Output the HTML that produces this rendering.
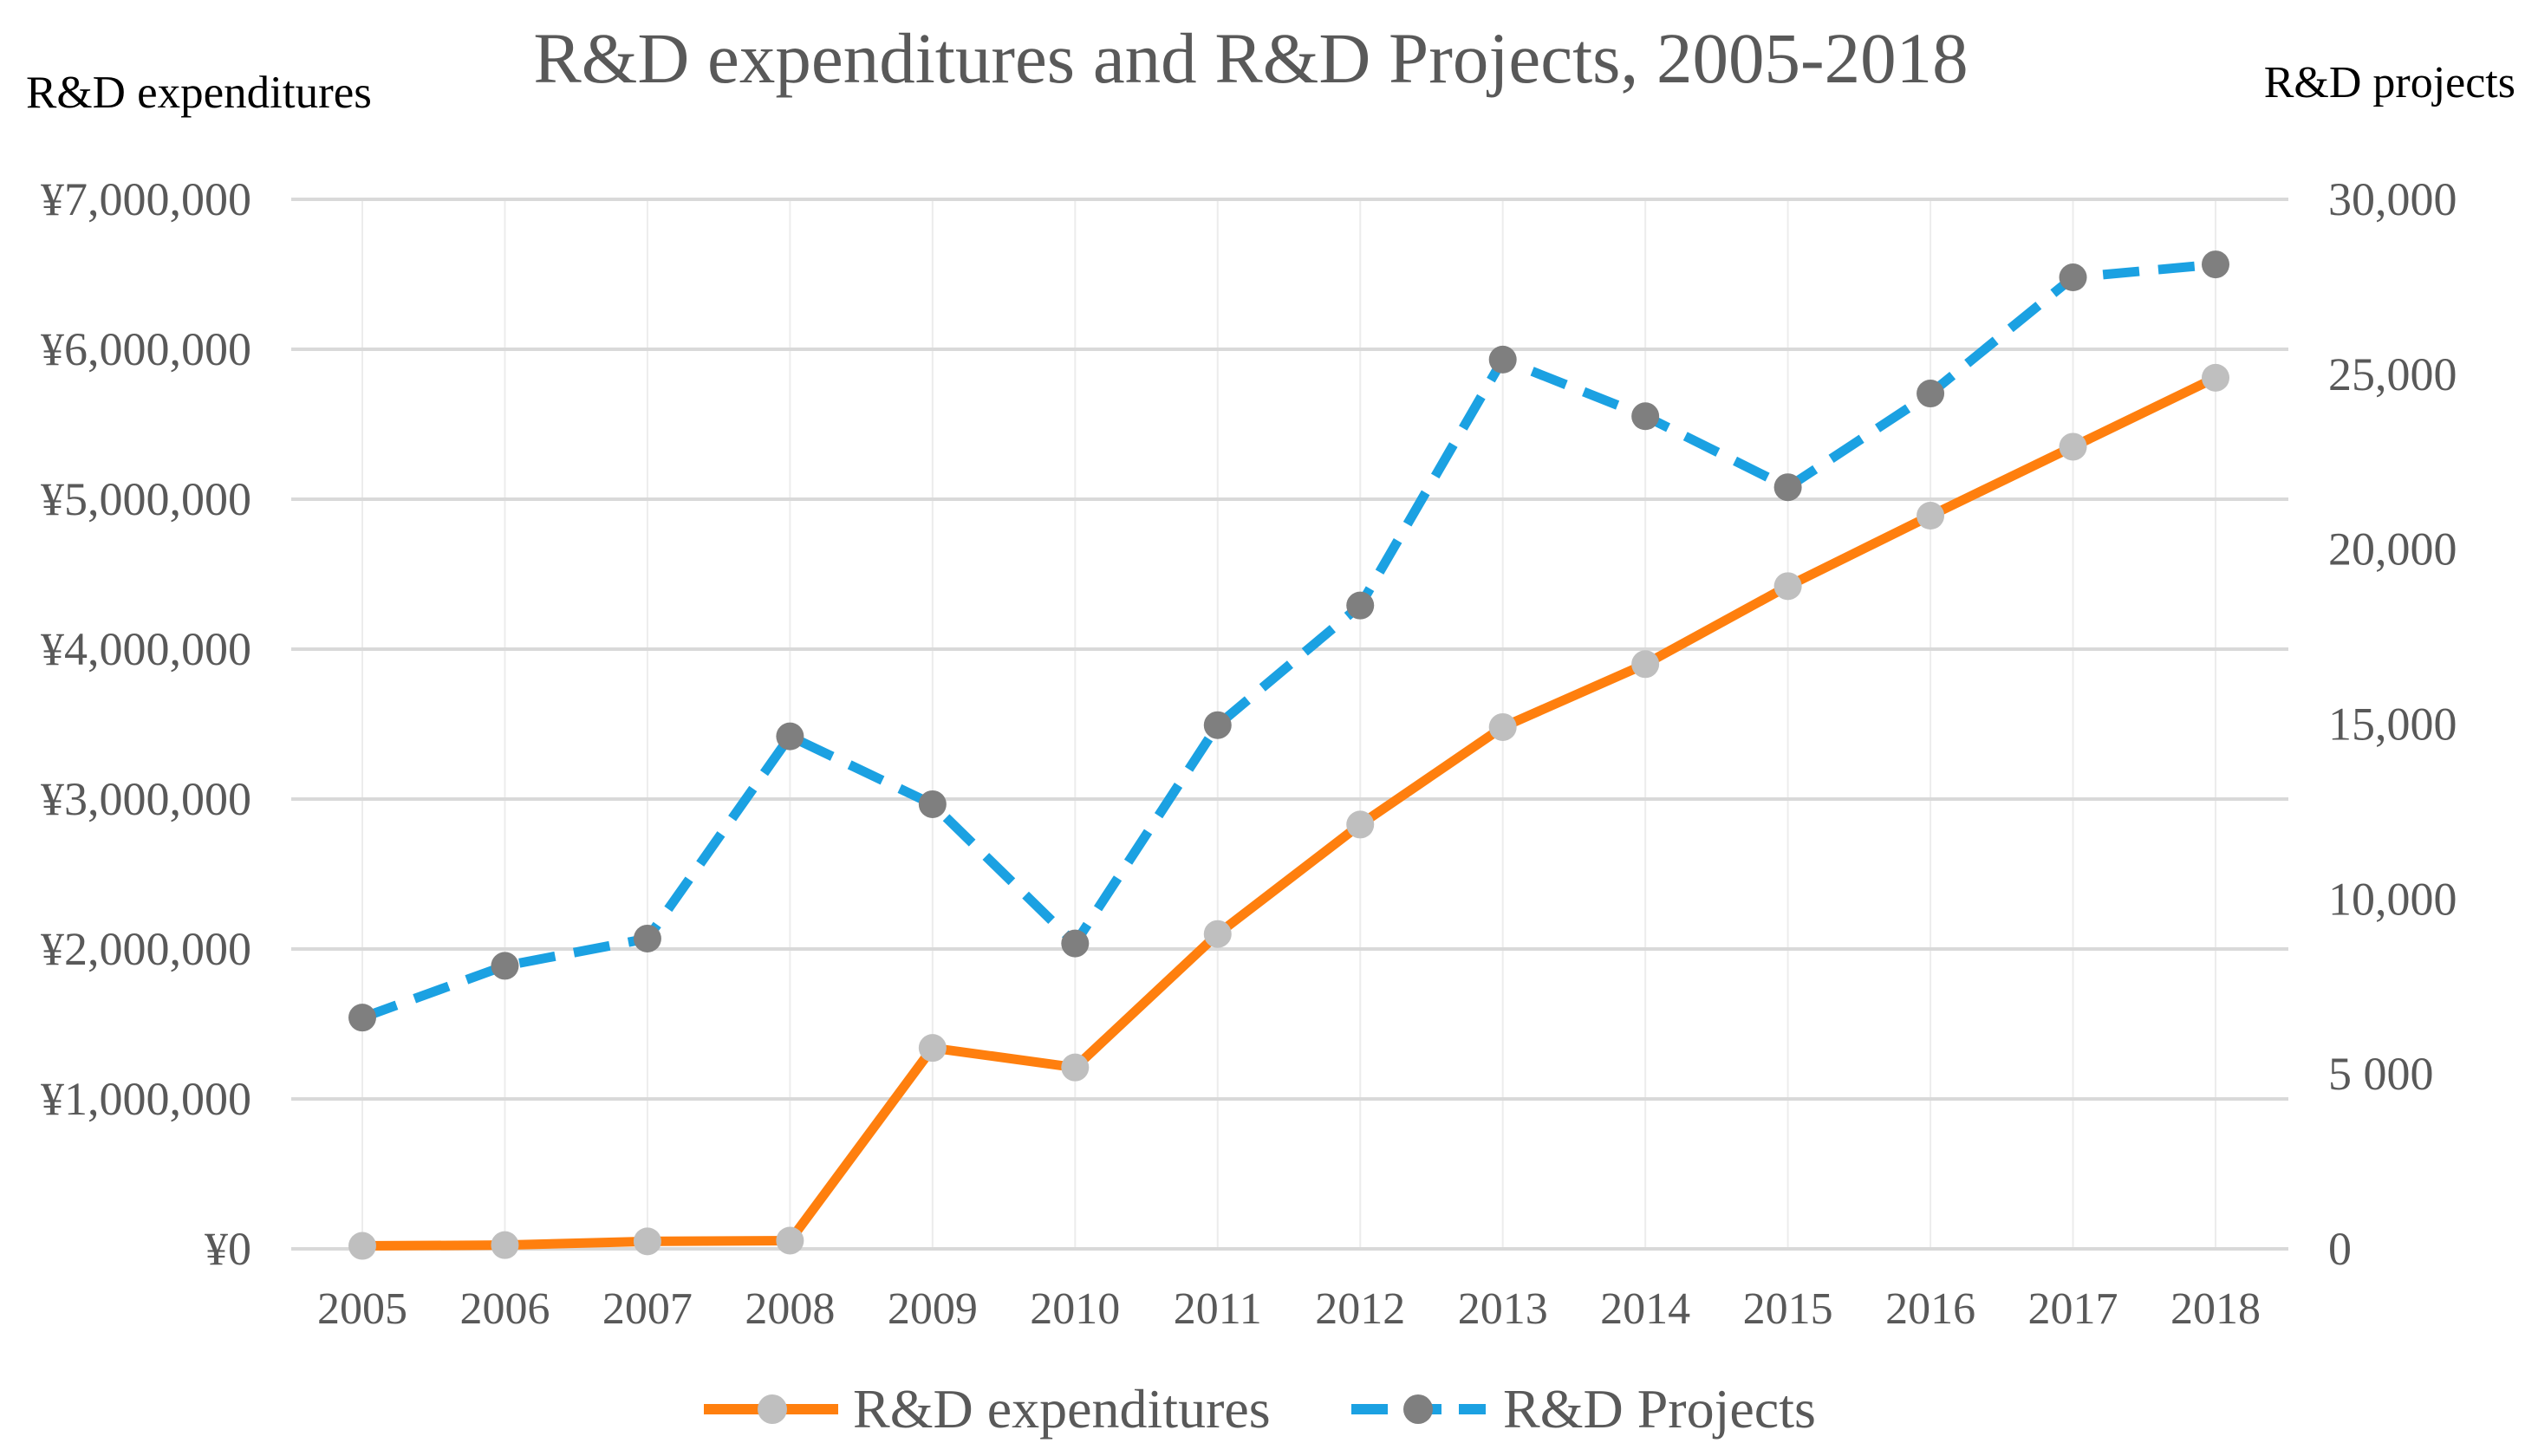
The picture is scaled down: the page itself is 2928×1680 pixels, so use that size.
<!DOCTYPE html>
<html><head><meta charset="utf-8"><style>
html,body{margin:0;padding:0;background:#fff;}
svg{display:block;font-family:"Liberation Serif",serif;}
</style></head><body>
<svg id="chart" width="2928" height="1680" viewBox="0 0 2928 1680" xmlns="http://www.w3.org/2000/svg">
<rect width="2928" height="1680" fill="#fff"/>
<text x="1443" y="95" text-anchor="middle" font-size="83" fill="#595959">R&amp;D expenditures  and R&amp;D Projects, 2005-2018</text>
<text x="30" y="124" font-size="53" fill="#000">R&amp;D expenditures</text>
<text x="2902" y="112" text-anchor="end" font-size="52" fill="#000">R&amp;D projects</text>
<g id="grid"></g>
<g id="ticks"></g>
<g id="series"></g>
<g>
<g>
<line x1="812" y1="1626" x2="967" y2="1626" stroke="#ff7f0e" stroke-width="12"/>
<circle cx="891" cy="1626" r="17" fill="#bfbfbf"/>
<text x="984" y="1647" font-size="64" fill="#595959">R&amp;D expenditures</text>
</g>
<g>
<line x1="1559" y1="1626" x2="1714" y2="1626" stroke="#1ba1e2" stroke-width="12" stroke-dasharray="42 20"/>
<circle cx="1636" cy="1626" r="17" fill="#7f7f7f"/>
<text x="1734" y="1647" font-size="64" fill="#595959">R&amp;D Projects</text>
</g>
</g>
</svg>
<script>
const years = [2005,2006,2007,2008,2009,2010,2011,2012,2013,2014,2015,2016,2017,2018];
const expenditures = [20000,25000,50000,55000,1340000,1210000,2100000,2830000,3480000,3900000,4420000,4890000,5350000,5810000];
const projects = [6610,8090,8870,14650,12710,8730,14970,18390,25420,23800,21770,24450,27770,28140];
const leftTicks = [0,1000000,2000000,3000000,4000000,5000000,6000000,7000000];
const leftTickLabels = ["¥0","¥1,000,000","¥2,000,000","¥3,000,000","¥4,000,000","¥5,000,000","¥6,000,000","¥7,000,000"];
const rightTickLabels = ["0","5 000","10,000","15,000","20,000","25,000","30,000"];
const rightTicks = [0,5000,10000,15000,20000,25000,30000];

const NS="http://www.w3.org/2000/svg";
const plotL=336, plotR=2640, y0=1441, yTop=230;
const xStart=418, xEnd=2556;
function x(i){return xStart+(xEnd-xStart)*i/(years.length-1);}
function yL(v){return y0-(y0-yTop)*v/7000000;}
function yR(v){return y0-(y0-yTop)*v/30000;}
function mk(tag,attrs,parent){const e=document.createElementNS(NS,tag);for(const k in attrs)e.setAttribute(k,attrs[k]);parent.appendChild(e);return e;}
const grid=document.getElementById('grid'), ticks=document.getElementById('ticks'), series=document.getElementById('series');

years.forEach((yr,i)=>{
  const l=mk('line',{x1:x(i),x2:x(i),y1:yTop,y2:y0,stroke:'#ececec','stroke-width':2},grid);
  
  
  const t=mk('text',{x:x(i),y:1527,'text-anchor':'middle','font-size':52,fill:'#595959'},ticks);
  t.textContent=yr;
  
  
});
leftTicks.forEach((v,i)=>{
  const l=mk('line',{x1:plotL,x2:plotR,y1:yL(v),y2:yL(v),stroke:'#d9d9d9','stroke-width':4},grid);
  
  
  const t=mk('text',{x:290,y:yL(v)+18,'text-anchor':'end','font-size':54,fill:'#595959'},ticks);
  t.textContent=leftTickLabels[i];
  
  
});
rightTicks.forEach((v,i)=>{
  const t=mk('text',{x:2686,y:yR(v)+18,'font-size':54,fill:'#595959'},ticks);
  t.textContent=rightTickLabels[i];
  
  
});

const pe=mk('polyline',{points:expenditures.map((v,i)=>x(i)+','+yL(v)).join(' '),fill:'none',stroke:'#ff7f0e','stroke-width':11,'stroke-linejoin':'round'},series);


const pp=mk('polyline',{points:projects.map((v,i)=>x(i)+','+yR(v)).join(' '),fill:'none',stroke:'#1ba1e2','stroke-width':11,'stroke-dasharray':'42 22'},series);


expenditures.forEach((v,i)=>{
  const c=mk('circle',{cx:x(i),cy:yL(v),r:16,fill:'#bfbfbf'},series);
  
  
});
projects.forEach((v,i)=>{
  const c=mk('circle',{cx:x(i),cy:yR(v),r:16,fill:'#7f7f7f'},series);
  
  
});
</script>
</body></html>
